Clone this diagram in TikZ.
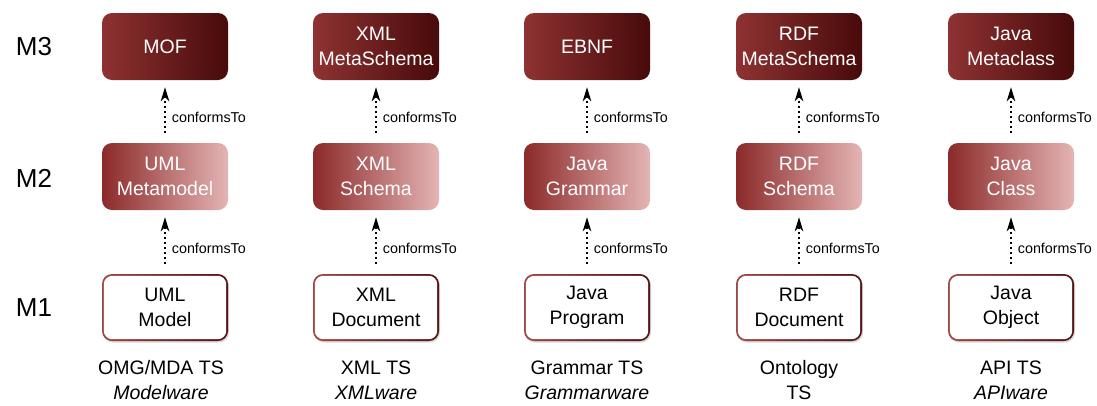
\documentclass[tikz,border=0pt]{standalone}
\usepackage{fontspec}
\setmainfont{Liberation Sans}
\usetikzlibrary{arrows.meta,shadows}
\definecolor{mthreeL}{RGB}{142,50,50}
\definecolor{mthreeR}{RGB}{72,10,10}
\definecolor{mtwoL}{RGB}{140,42,42}
\definecolor{mtwoR}{RGB}{228,180,180}
\definecolor{moneL}{RGB}{160,70,70}
\definecolor{moneR}{RGB}{85,20,20}
\begin{document}
\begin{tikzpicture}[x=1pt,y=-1pt,
  box/.style={minimum width=126pt,minimum height=67pt,rounded corners=10pt,
    align=center,font=\fontsize{19.5}{25}\selectfont,inner sep=2pt},
  mthree/.style={box,left color=mthreeL,right color=mthreeR,text=white},
  mtwo/.style={box,left color=mtwoL,right color=mtwoR,text=white},
  mone/.style={box,left color=moneL,right color=moneR,text=black,
    drop shadow={shadow xshift=1pt,shadow yshift=-1.5pt,opacity=0.3},
    path picture={\fill[white,rounded corners=8.4pt]
      ([shift={(1.8pt,-1.8pt)}]path picture bounding box.north west) rectangle
      ([shift={(-1.8pt,1.8pt)}]path picture bounding box.south east);}},
  conf/.style={line width=1.8pt,dash pattern=on 1.8pt off 3.2pt,
    -{Stealth[length=14pt,width=8.5pt,inset=4pt]},
    shorten >=7pt,shorten <=10pt},
  clab/.style={font=\fontsize{14.3}{16}\selectfont,anchor=west,inner sep=1pt,xshift=5pt},
  lvl/.style={font=\fontsize{26}{30}\selectfont},
  ts/.style={font=\fontsize{19.5}{25}\selectfont,align=center,anchor=north}
]
\useasboundingbox (0,0) rectangle (1097,405);
% level labels
\node[lvl] (l3) at (34,47) {M3};
\node[lvl] (l2) at (34,178) {M2};
\node[lvl] (l1) at (34,308) {M1};
% columns
\foreach \n/\x/\a/\b/\c in {
  1/165/MOF/UML\\Metamodel/UML\\Model,
  2/376/XML\\MetaSchema/XML\\Schema/XML\\Document,
  3/587/EBNF/Java\\Grammar/Java\\Program,
  4/799/RDF\\MetaSchema/RDF\\Schema/RDF\\Document,
  5/1011/Java\\Metaclass/Java\\Class/Java\\Object}{
  \node[mthree] (t\n) at (\x,46.5) {\a};
  \node[mtwo] (m\n) at (\x,176.5) {\b};
  \node[mone] (b\n) at (\x,307.5) {\c};
  \draw[conf] (m\n.north) -- node[clab,pos=0.4] {conformsTo} (t\n.south);
  \draw[conf] (b\n.north) -- node[clab,pos=0.4] {conformsTo} (m\n.south);
}
\node[ts] (s1) at (161,357) {OMG/MDA TS\\\textit{Modelware}};
\node[ts] (s2) at (376,357) {XML TS\\\textit{XMLware}};
\node[ts] (s3) at (587,357) {Grammar TS\\\textit{Grammarware}};
\node[ts] (s4) at (799,357) {Ontology\\TS};
\node[ts] (s5) at (1011,357) {API TS\\\textit{APIware}};
\end{tikzpicture}
\end{document}
